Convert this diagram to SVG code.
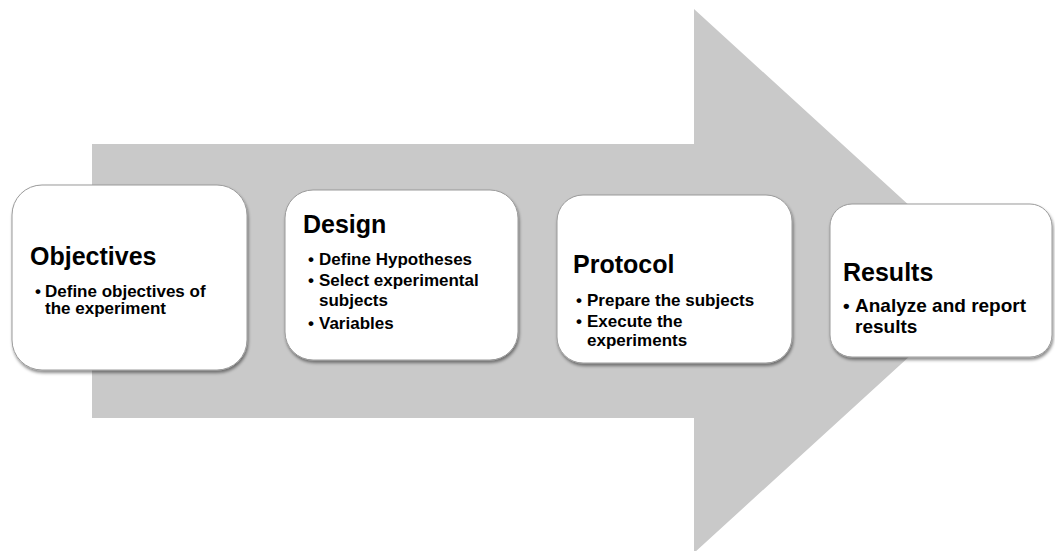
<svg xmlns="http://www.w3.org/2000/svg" width="1055" height="551" viewBox="0 0 1055 551">
  <defs>
    <filter id="sh" x="-10%" y="-10%" width="125%" height="130%">
      <feDropShadow dx="1" dy="2.5" stdDeviation="1.5" flood-color="#000" flood-opacity="0.45"/>
    </filter>
    <style>
      .box { fill: #ffffff; stroke: #9a9a9a; stroke-width: 1; filter: url(#sh); }
      .h { font-family: "Liberation Sans", Arial, sans-serif; font-weight: bold; font-size: 25px; fill: #000; }
      .b { font-family: "Liberation Sans", Arial, sans-serif; font-weight: bold; font-size: 17px; fill: #000; }
      .bl { font-family: "Liberation Sans", Arial, sans-serif; font-weight: bold; font-size: 19px; fill: #000; }
    </style>
  </defs>
  <rect width="1055" height="551" fill="#ffffff"/>
  <g id="connectors">
    <path id="big-arrow" d="M92,144 L694,144 L694,9 L992,281 L694,553 L694,418 L92,418 Z" fill="#c9c9c9"/>
  </g>
  <g id="node-objectives">
    <rect class="box" x="12" y="185" width="235" height="185" rx="30" ry="30"/>
    <text class="h" x="30" y="265">Objectives</text>
    <text class="b" x="35" y="297">•</text>
    <text class="b" x="45" y="297">Define objectives of</text>
    <text class="b" x="45" y="314">the experiment</text>
  </g>
  <g id="node-design">
    <rect class="box" x="285" y="190" width="233" height="170" rx="28" ry="28"/>
    <text class="h" x="303" y="233">Design</text>
    <text class="b" x="308" y="265">•</text>
    <text class="b" x="319" y="265">Define Hypotheses</text>
    <text class="b" x="308" y="286">•</text>
    <text class="b" x="319" y="286">Select experimental</text>
    <text class="b" x="319" y="306">subjects</text>
    <text class="b" x="308" y="329">•</text>
    <text class="b" x="319" y="329">Variables</text>
  </g>
  <g id="node-protocol">
    <rect class="box" x="557" y="195" width="235" height="168" rx="26" ry="26"/>
    <text class="h" x="573" y="273">Protocol</text>
    <text class="b" x="576" y="306">•</text>
    <text class="b" x="587" y="306">Prepare the subjects</text>
    <text class="b" x="576" y="327">•</text>
    <text class="b" x="587" y="327">Execute the</text>
    <text class="b" x="587" y="346">experiments</text>
  </g>
  <g id="node-results">
    <rect class="box" x="830" y="204" width="222" height="153" rx="22" ry="22"/>
    <text class="h" x="843" y="281">Results</text>
    <text class="bl" x="843" y="312">•</text>
    <text class="bl" x="855" y="312">Analyze and report</text>
    <text class="bl" x="855" y="333">results</text>
  </g>
</svg>
